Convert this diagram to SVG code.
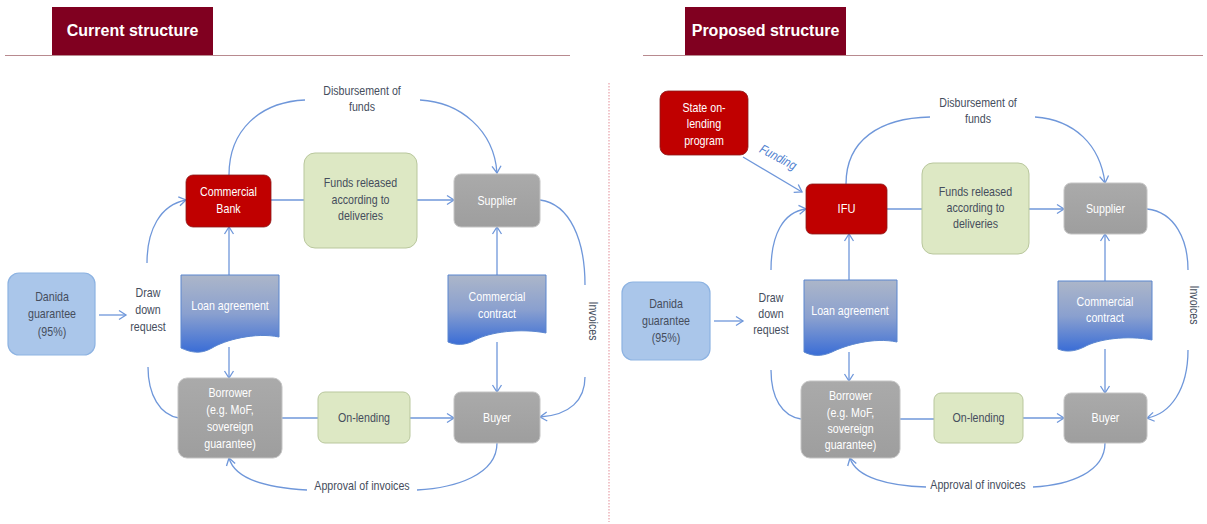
<svg xmlns="http://www.w3.org/2000/svg" width="1207" height="524" viewBox="0 0 1207 524">
<style>
.hd{fill:#800020}
.hdt{font-family:"Liberation Sans",Arial,sans-serif;font-weight:bold;font-size:16px;fill:#fff}
.t{font-family:"Liberation Sans",Arial,sans-serif;font-size:13px;text-anchor:middle}
.dk{fill:#454d5c}
.wh{fill:#fff}
.red{fill:#c00000;stroke:#8b1a1a;stroke-width:0.8}
.gry{fill:url(#gg);stroke:#c4c4c4;stroke-width:1}
.grn{fill:#dde8c4;stroke:#b9c79d;stroke-width:1}
.blu{fill:#aac6ea;stroke:#8db3e2;stroke-width:1.2}
.doc{fill:url(#dg);stroke:#5b86cf;stroke-width:1}
.c{fill:none;stroke:#6f97da;stroke-width:1.3}
.a{marker-end:url(#ar)}
</style>
<defs>
<linearGradient id="gg" x1="0" y1="0" x2="0" y2="1"><stop offset="0" stop-color="#aaaaaa"/><stop offset="1" stop-color="#9e9e9e"/></linearGradient>
<linearGradient id="dg" x1="0" y1="0" x2="0" y2="1"><stop offset="0" stop-color="#acb6c9"/><stop offset="0.5" stop-color="#8aa0cf"/><stop offset="1" stop-color="#3a6dd6"/></linearGradient>
<marker id="ar" markerWidth="12" markerHeight="12" refX="9" refY="6" orient="auto" markerUnits="userSpaceOnUse"><path d="M2,1.5 L9,6 L2,10.5" fill="none" stroke="#6f97da" stroke-width="1.3"/></marker>
</defs>
<rect width="1207" height="524" fill="#fff"/>

<!-- headers -->
<g id="hdr-current">
<rect class="hd" x="52" y="7" width="161" height="48"/>
<text class="hdt" x="132.5" y="36" text-anchor="middle">Current structure</text>
<line x1="5" y1="55.5" x2="570" y2="55.5" stroke="#b88a8f" stroke-width="1"/>
</g>
<g id="hdr-proposed">
<rect class="hd" x="685" y="7" width="161" height="48"/>
<text class="hdt" x="765.5" y="36" text-anchor="middle">Proposed structure</text>
<line x1="643" y1="55.5" x2="1203" y2="55.5" stroke="#b88a8f" stroke-width="1"/>
</g>
<line x1="609" y1="83" x2="609" y2="522" stroke="#e8a0a8" stroke-width="1.2" stroke-dasharray="1.5 1.5"/>

<!-- connectors -->
<g id="connectors">
<path class="c" d="M229,175 C229,130 260,102 305,100"/>
<path class="c a" d="M420,100 C460,102 494,130 497,173"/>
<path class="c" d="M271,200 H304"/>
<path class="c a" d="M417,200 H454"/>
<path class="c a" d="M229,275 V227"/>
<path class="c a" d="M229,347 V378"/>
<path class="c a" d="M497,275 V227"/>
<path class="c a" d="M497,342 V392"/>
<path class="c a" d="M99,315 H126"/>
<path class="c a" d="M147,263 C147,230 160,205 186,200"/>
<path class="c" d="M148,367 C148,395 160,415 179,418"/>
<path class="c" d="M282,418 H318"/>
<path class="c a" d="M410,418 H454"/>
<path class="c" d="M540,200 C570,204 585,240 585,285"/>
<path class="c a" d="M585,377 C585,400 570,415 540,417"/>
<path class="c" d="M497,443 C497,475 455,488 417,490"/>
<path class="c a" d="M307,490 C270,488 235,480 229,458"/>
<path class="c a" d="M743,157 L802,192"/>
<path class="c" d="M846,184 C846,140 880,118 930,117"/>
<path class="c a" d="M1035,117 C1075,120 1100,145 1105,183"/>
<path class="c" d="M887,209 H922"/>
<path class="c a" d="M1029,209 H1064"/>
<path class="c a" d="M849,280 V234"/>
<path class="c a" d="M849,352 V381"/>
<path class="c a" d="M1105,281 V234"/>
<path class="c a" d="M1105,349 V393"/>
<path class="c a" d="M714,321 H743"/>
<path class="c a" d="M771,270 C771,235 783,212 806,209"/>
<path class="c" d="M771,370 C771,398 782,416 801,419"/>
<path class="c" d="M900,419 H934"/>
<path class="c a" d="M1023,418 H1064"/>
<path class="c" d="M1147,209 C1175,212 1188,240 1188,270"/>
<path class="c a" d="M1188,350 C1188,390 1170,414 1147,418"/>
<path class="c" d="M1105,443 C1105,472 1070,485 1033,487"/>
<path class="c a" d="M926,487 C890,486 856,478 850,458"/>
</g>

<!-- edge labels -->
<g id="labels">
<text class="t dk" transform="translate(362,95) scale(.82,1)">Disbursement of</text>
<text class="t dk" transform="translate(362,111) scale(.82,1)">funds</text>
<text class="t dk" transform="translate(148,297) scale(.82,1)">Draw</text>
<text class="t dk" transform="translate(148,314) scale(.82,1)">down</text>
<text class="t dk" transform="translate(148,331) scale(.82,1)">request</text>
<text class="t dk" transform="translate(362,490) scale(.82,1)">Approval of invoices</text>
<text class="t dk" transform="translate(589,321) rotate(90) scale(.82,1)">Invoices</text>
<text class="t dk" transform="translate(978,107) scale(.82,1)">Disbursement of</text>
<text class="t dk" transform="translate(978,123) scale(.82,1)">funds</text>
<text class="t dk" transform="translate(771,302) scale(.82,1)">Draw</text>
<text class="t dk" transform="translate(771,318) scale(.82,1)">down</text>
<text class="t dk" transform="translate(771,334) scale(.82,1)">request</text>
<text class="t dk" transform="translate(978,489) scale(.82,1)">Approval of invoices</text>
<text class="t dk" transform="translate(1190,305) rotate(90) scale(.82,1)">Invoices</text>
<text class="t" fill="#4f7fcf" font-style="italic" font-size="11.5px" transform="translate(776,161) rotate(28) scale(.85,1)">Funding</text>
</g>

<!-- left nodes -->
<g id="bank"><rect class="red" x="186" y="175" width="85" height="52" rx="7"/><text class="t wh" transform="translate(228.5,196) scale(.82,1)">Commercial</text><text class="t wh" transform="translate(228.5,213) scale(.82,1)">Bank</text></g>
<g id="funds-l"><rect class="grn" x="304" y="153" width="113" height="95" rx="11"/><text class="t dk" transform="translate(360.5,187) scale(.82,1)">Funds released</text><text class="t dk" transform="translate(360.5,204) scale(.82,1)">according to</text><text class="t dk" transform="translate(360.5,220) scale(.82,1)">deliveries</text></g>
<g id="supplier-l"><rect class="gry" x="454" y="174" width="86" height="53" rx="7"/><text class="t wh" transform="translate(497,205) scale(.82,1)">Supplier</text></g>
<g id="contract-l"><path class="doc" d="M448,275 H546 V333 C520,328 490,332 475,340 C465,346 455,345 448,342 Z"/><text class="t wh" transform="translate(497,301) scale(.82,1)">Commercial</text><text class="t wh" transform="translate(497,318) scale(.82,1)">contract</text></g>
<g id="loan-l"><path class="doc" d="M181,275 H279 V337 C255,332 225,340 212,348 C200,355 190,352 181,348 Z"/><text class="t wh" transform="translate(230,310) scale(.82,1)">Loan agreement</text></g>
<g id="danida-l"><rect class="blu" x="8" y="273" width="87" height="82" rx="11"/><text class="t dk" transform="translate(52,301) scale(.82,1)">Danida</text><text class="t dk" transform="translate(52,318) scale(.82,1)">guarantee</text><text class="t dk" transform="translate(52,336) scale(.82,1)">(95%)</text></g>
<g id="borrower-l"><rect class="gry" x="178" y="378" width="104" height="80" rx="9"/><text class="t wh" transform="translate(230,397) scale(.82,1)">Borrower</text><text class="t wh" transform="translate(230,414) scale(.82,1)">(e.g. MoF,</text><text class="t wh" transform="translate(230,431) scale(.82,1)">sovereign</text><text class="t wh" transform="translate(230,448) scale(.82,1)">guarantee)</text></g>
<g id="onlending-l"><rect class="grn" x="318" y="392" width="92" height="51" rx="7"/><text class="t dk" transform="translate(364,422) scale(.82,1)">On-lending</text></g>
<g id="buyer-l"><rect class="gry" x="454" y="392" width="86" height="51" rx="7"/><text class="t wh" transform="translate(497,422) scale(.82,1)">Buyer</text></g>

<!-- right nodes -->
<g id="state"><rect class="red" x="660" y="91" width="88" height="64" rx="8"/><text class="t wh" transform="translate(704,112) scale(.82,1)">State on-</text><text class="t wh" transform="translate(704,128) scale(.82,1)">lending</text><text class="t wh" transform="translate(704,145) scale(.82,1)">program</text></g>
<g id="ifu"><rect class="red" x="806" y="184" width="81" height="50" rx="6"/><text class="t wh" font-size="10.5px" transform="translate(846.5,213) scale(.85,1)">IFU</text></g>
<g id="funds-r"><rect class="grn" x="922" y="163" width="107" height="91" rx="11"/><text class="t dk" transform="translate(975.5,196) scale(.82,1)">Funds released</text><text class="t dk" transform="translate(975.5,212) scale(.82,1)">according to</text><text class="t dk" transform="translate(975.5,228) scale(.82,1)">deliveries</text></g>
<g id="supplier-r"><rect class="gry" x="1064" y="183" width="83" height="51" rx="7"/><text class="t wh" transform="translate(1105.5,213) scale(.82,1)">Supplier</text></g>
<g id="contract-r"><path class="doc" d="M1058,281 H1152 V340 C1127,335 1098,339 1084,347 C1074,352 1065,352 1058,349 Z"/><text class="t wh" transform="translate(1105,306) scale(.82,1)">Commercial</text><text class="t wh" transform="translate(1105,322) scale(.82,1)">contract</text></g>
<g id="loan-r"><path class="doc" d="M804,280 H897 V342 C874,337 846,345 832,352 C821,357 812,356 804,352 Z"/><text class="t wh" transform="translate(850,315) scale(.82,1)">Loan agreement</text></g>
<g id="danida-r"><rect class="blu" x="622" y="282" width="88" height="78" rx="11"/><text class="t dk" transform="translate(666,308) scale(.82,1)">Danida</text><text class="t dk" transform="translate(666,325) scale(.82,1)">guarantee</text><text class="t dk" transform="translate(666,342) scale(.82,1)">(95%)</text></g>
<g id="borrower-r"><rect class="gry" x="801" y="381" width="99" height="77" rx="9"/><text class="t wh" transform="translate(850.5,400) scale(.82,1)">Borrower</text><text class="t wh" transform="translate(850.5,417) scale(.82,1)">(e.g. MoF,</text><text class="t wh" transform="translate(850.5,433) scale(.82,1)">sovereign</text><text class="t wh" transform="translate(850.5,449) scale(.82,1)">guarantee)</text></g>
<g id="onlending-r"><rect class="grn" x="934" y="393" width="89" height="50" rx="7"/><text class="t dk" transform="translate(978.5,422) scale(.82,1)">On-lending</text></g>
<g id="buyer-r"><rect class="gry" x="1064" y="393" width="83" height="50" rx="7"/><text class="t wh" transform="translate(1105.5,422) scale(.82,1)">Buyer</text></g>
</svg>
